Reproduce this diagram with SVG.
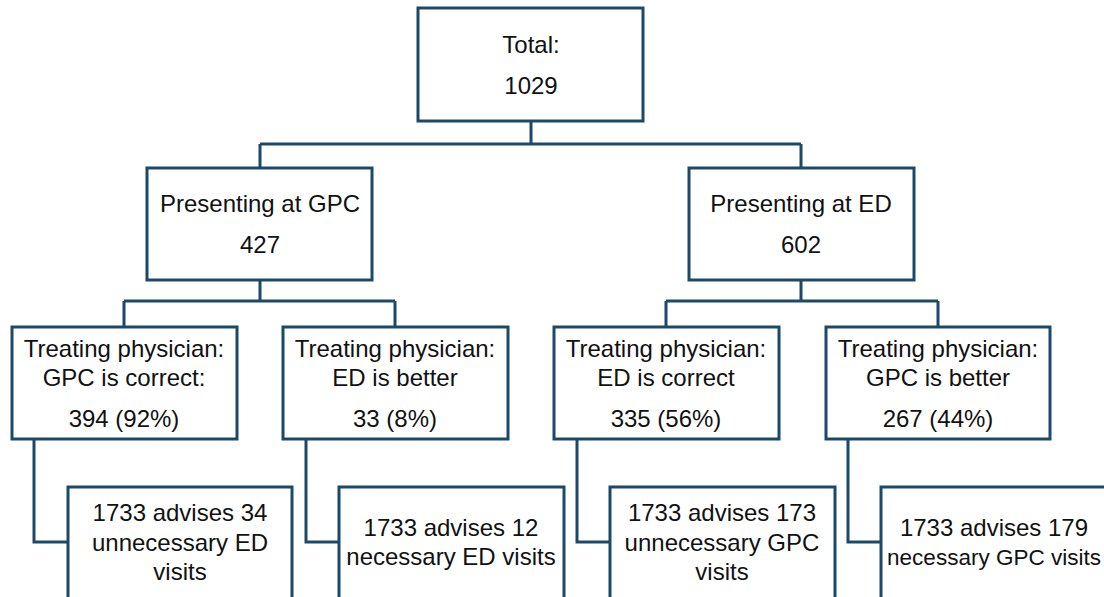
<svg xmlns="http://www.w3.org/2000/svg" width="1104" height="597" viewBox="0 0 1104 597">
<style>
.box{fill:#ffffff;stroke:#1b4a68;stroke-width:3}
.ln{fill:none;stroke:#1b4a68;stroke-width:3}
text{font-family:"Liberation Sans",Arial,sans-serif;font-size:24px;fill:#111111;text-anchor:middle}
</style>
<rect width="1104" height="597" fill="#ffffff"/>
<g id="connectors">
<path class="ln" d="M531 121V144M260 144H801M260 144V168M801 144V168"/>
<path class="ln" d="M260 280V301M124 301H395M124 301V327M395 301V327"/>
<path class="ln" d="M801 280V301M666 301H938M666 301V327M938 301V327"/>
<path class="ln" d="M34 439V542H68"/>
<path class="ln" d="M306 439V542H339"/>
<path class="ln" d="M577 439V542H610"/>
<path class="ln" d="M848 439V542H881"/>
</g>
<g id="total"><rect class="box" x="418" y="8" width="225" height="113"/><text x="531" y="53">Total:</text><text x="531" y="94">1029</text></g>
<g id="gpc"><rect class="box" x="147" y="168" width="225" height="112"/><text x="260" y="212">Presenting at GPC</text><text x="260" y="253">427</text></g>
<g id="ed"><rect class="box" x="689" y="168" width="225" height="112"/><text x="801" y="212">Presenting at ED</text><text x="801" y="253">602</text></g>
<g id="gpc-correct"><rect class="box" x="12" y="327" width="225" height="112"/><text x="124" y="357">Treating physician:</text><text x="124" y="386">GPC is correct:</text><text x="124" y="427">394 (92%)</text></g>
<g id="ed-better"><rect class="box" x="283" y="327" width="225" height="112"/><text x="395" y="357">Treating physician:</text><text x="395" y="386">ED is better</text><text x="395" y="427">33 (8%)</text></g>
<g id="ed-correct"><rect class="box" x="554" y="327" width="225" height="112"/><text x="666" y="357">Treating physician:</text><text x="666" y="386">ED is correct</text><text x="666" y="427">335 (56%)</text></g>
<g id="gpc-better"><rect class="box" x="826" y="327" width="224" height="112"/><text x="938" y="357">Treating physician:</text><text x="938" y="386">GPC is better</text><text x="938" y="427">267 (44%)</text></g>
<g id="advise-34"><rect class="box" x="68" y="487" width="224" height="130"/><text x="180" y="521">1733 advises 34</text><text x="180" y="551">unnecessary ED</text><text x="180" y="580">visits</text></g>
<g id="advise-12"><rect class="box" x="339" y="487" width="225" height="130"/><text x="451" y="536">1733 advises 12</text><text x="451" y="565">necessary ED visits</text></g>
<g id="advise-173"><rect class="box" x="610" y="487" width="225" height="130"/><text x="722" y="521">1733 advises 173</text><text x="722" y="551">unnecessary GPC</text><text x="722" y="580">visits</text></g>
<g id="advise-179"><rect class="box" x="881" y="487" width="225" height="130"/><text x="994" y="536">1733 advises 179</text><text x="994" y="565" style="font-size:22.5px">necessary GPC visits</text></g>
</svg>
